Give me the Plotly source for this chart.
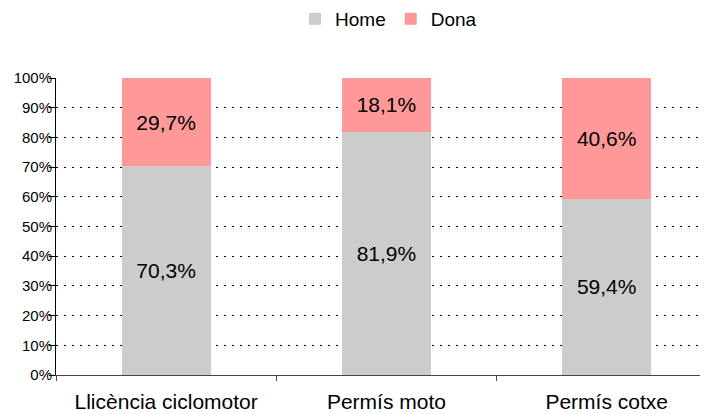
import plotly.graph_objects as go

categories = ['Llicència ciclomotor', 'Permís moto', 'Permís cotxe']
home = [70.3, 81.9, 59.4]
dona = [29.7, 18.1, 40.6]


def pct(v):
    return ('%.1f%%' % v).replace('.', ',')


traces = []
for name, vals, col in [('Home', home, '#CCCCCC'), ('Dona', dona, '#FF9999')]:
    traces.append(go.Bar(
        x=categories,
        y=vals,
        name=name,
        width=0.405,
        marker=dict(color=col, line=dict(width=0)),
        text=[pct(v) for v in vals],
        textposition='inside',
        insidetextanchor='middle',
        textfont=dict(size=21, color='black'),
        constraintext='none',
    ))

# page body has an 8px margin, so figure is 700x406 and margins are shifted
layout = go.Layout(
    barmode='stack',
    width=700,
    height=406,
    margin=dict(l=48, r=0, t=70, b=39),
    paper_bgcolor='white',
    plot_bgcolor='white',
    font=dict(family='Liberation Sans, Arial, sans-serif', color='black'),
    showlegend=True,
    legend=dict(
        orientation='h',
        x=0.51, xanchor='center',
        y=0.973, yref='container', yanchor='middle',
        font=dict(size=19),
        traceorder='normal',
    ),
    xaxis=dict(
        range=[-0.5, 2.46],
        tickson='boundaries',
        ticks='outside',
        ticklen=5,
        ticklabelstandoff=8,
        tickcolor='#444444',
        showline=True,
        linecolor='#444444',
        linewidth=1,
        showgrid=False,
        automargin=False,
        tickfont=dict(size=21),
    ),
    yaxis=dict(
        range=[0, 100],
        dtick=10,
        ticksuffix='%',
        ticks='outside',
        ticklen=6,
        ticklabelstandoff=-6,
        tickcolor='black',
        showline=True,
        linecolor='black',
        linewidth=1,
        showgrid=True,
        gridcolor='black',
        gridwidth=1,
        griddash='2px,6px',
        zeroline=False,
        tickfont=dict(size=15),
    ),
)

fig = go.Figure(data=traces, layout=layout)
fig.write_html('out.html')
